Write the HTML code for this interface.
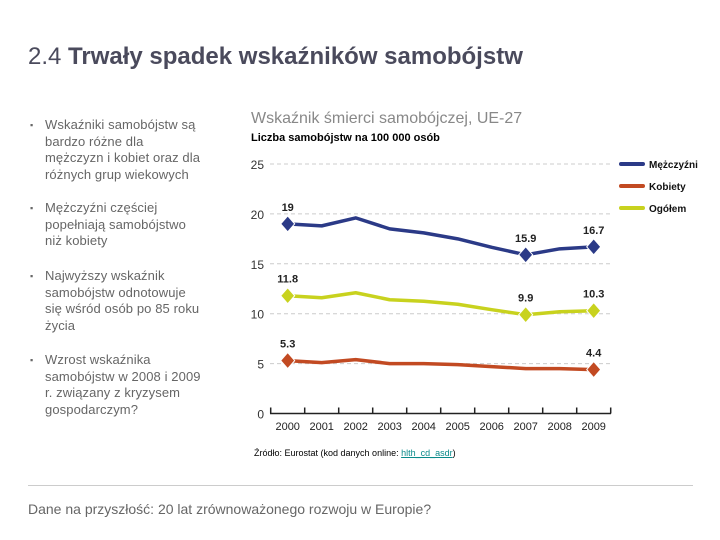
<!DOCTYPE html>
<html><head><meta charset="utf-8">
<style>
body{margin:0;width:720px;height:540px;background:#fff;font-family:"Liberation Sans",sans-serif;position:relative;overflow:hidden}
.abs{position:absolute}
#title{left:28px;top:43px;font-size:24px;color:#4a4a5c;white-space:nowrap}
.bl{position:absolute;left:30px;width:190px;font-size:13px;line-height:16.7px;color:#666}
.bl span.b{position:absolute;left:0;font-size:9px}
.bl div{margin-left:15px;width:170px;letter-spacing:0.1px}
</style></head><body>
<div id="title" class="abs">2.4 <b>Trwały spadek wskaźników samobójstw</b></div>
<div class="bl" style="top:117px"><span class="b">▪</span><div>Wskaźniki samobójstw są<br>bardzo różne dla<br>mężczyzn i kobiet oraz dla<br>różnych grup wiekowych</div></div>
<div class="bl" style="top:200px"><span class="b">▪</span><div>Mężczyźni częściej<br>popełniają samobójstwo<br>niż kobiety</div></div>
<div class="bl" style="top:268px"><span class="b">▪</span><div>Najwyższy wskaźnik<br>samobójstw odnotowuje<br>się wśród osób po 85 roku<br>życia</div></div>
<div class="bl" style="top:352px"><span class="b">▪</span><div>Wzrost wskaźnika<br>samobójstw w 2008 i 2009<br>r. związany z kryzysem<br>gospodarczym?</div></div>
<div class="abs" style="left:251px;top:110px;font-size:16px;color:#888">Wskaźnik śmierci samobójczej, UE-27</div>
<div class="abs" style="left:251px;top:132px;font-size:11px;font-weight:bold;color:#000">Liczba samobójstw na 100 000 osób</div>
<svg class="abs" style="left:0;top:0" width="720" height="540" id="chart"></svg>
<div class="abs" style="left:254px;top:448px;font-size:9px;color:#000">Źródło: Eurostat (kod danych online: <span style="color:#0a8a8a;text-decoration:underline">hlth_cd_asdr</span>)</div>
<div class="abs" style="left:28px;top:485px;width:665px;height:1px;background:#ccc"></div>
<div class="abs" style="left:28px;top:501px;font-size:14px;color:#666">Dane na przyszłość: 20 lat zrównoważonego rozwoju w Europie?</div>
<script>
const years=["2000","2001","2002","2003","2004","2005","2006","2007","2008","2009"];
const men=[19,18.8,19.6,18.5,18.1,17.5,16.65,15.9,16.5,16.7];
const women=[5.3,5.1,5.4,5.0,5.0,4.9,4.7,4.5,4.5,4.4];
const total=[11.8,11.6,12.1,11.4,11.25,10.95,10.4,9.9,10.2,10.3];
const yTicks=[0,5,10,15,20,25];
const NS="http://www.w3.org/2000/svg";
const svg=document.getElementById('chart');
const X=i=>287.7+i*34;
const Y=v=>413.5-v*9.98;
function el(t,a,p){const e=document.createElementNS(NS,t);for(const k in a)e.setAttribute(k,a[k]);(p||svg).appendChild(e);return e;}
yTicks.forEach(v=>{
  if(v>0){const g=el('line',{x1:270,x2:612,y1:Y(v),y2:Y(v),stroke:'#ccc','stroke-dasharray':'4,3'});
  
  }
  const t=el('text',{x:264,y:Y(v)+5,'text-anchor':'end','font-size':12,fill:'#333','font-family':'Liberation Sans'});
  t.textContent=v;
  
  
});
const ax=el('line',{x1:270,x2:611,y1:Y(0),y2:Y(0),stroke:'#222','stroke-width':1.5});


for(let i=0;i<=years.length;i++){el('line',{x1:X(i)-17,x2:X(i)-17,y1:Y(0)-6,y2:Y(0),stroke:'#222','stroke-width':1.5});}
years.forEach((y,i)=>{const t=el('text',{x:X(i),y:430,'text-anchor':'middle','font-size':11,fill:'#222','font-family':'Liberation Sans'});
t.textContent=y;

});
const series=[
 {name:'men',data:men,color:'#2b3a87',marks:[0,7,9]},
 {name:'total',data:total,color:'#c8d21e',marks:[0,7,9]},
 {name:'women',data:women,color:'#c24a22',marks:[0,9]}];
series.forEach(s=>{
  const p=el('polyline',{points:s.data.map((v,i)=>X(i)+','+Y(v)).join(' '),fill:'none',stroke:s.color,'stroke-width':3.5,'stroke-linejoin':'round'});
  
  
  s.marks.forEach(i=>{const x=X(i),y=Y(s.data[i]);
    const d=el('polygon',{points:`${x},${y-8} ${x+7},${y} ${x},${y+8} ${x-7},${y}`,fill:s.color,stroke:'#fff','stroke-width':1});
    
    
    const t=el('text',{x:x,y:y-13,'text-anchor':'middle','font-size':11,'font-weight':'bold',fill:'#222','font-family':'Liberation Sans'});
    t.textContent=s.data[i];
    
    
  });
});
const leg=[['Mężczyźni','#2b3a87'],['Kobiety','#c24a22'],['Ogółem','#c8d21e']];
leg.forEach((l,i)=>{const y=164+i*22;
  el('line',{x1:621,x2:643,y1:y,y2:y,stroke:l[1],'stroke-width':4,'stroke-linecap':'round'});
  const t=el('text',{x:649,y:y+4,'font-size':10,'font-weight':'bold',fill:'#111','font-family':'Liberation Sans'});
  t.textContent=l[0];
  
  });
</script>
</body></html>
